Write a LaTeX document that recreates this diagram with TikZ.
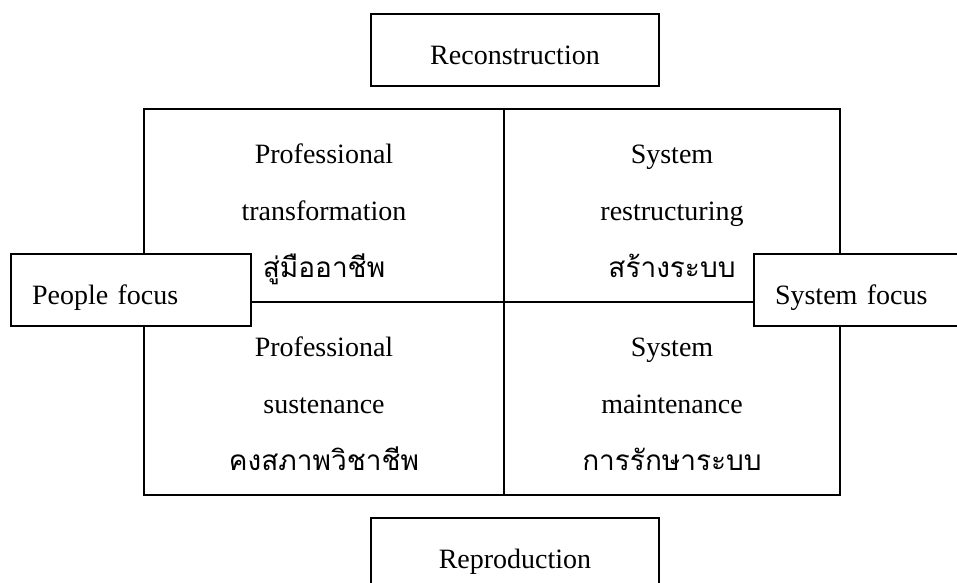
\documentclass[tikz,border=0pt]{standalone}
\usepackage{fontspec}
\setmainfont{Liberation Serif}
\newfontfamily\thaifont[Script=Thai]{Loma}
\begin{document}
\begin{tikzpicture}[x=1pt,y=-1pt,line width=1.8pt,
		cell/.style={draw,minimum width=#1,minimum height=193pt,inner sep=0pt,text height=149pt,text depth=6pt,align=center,font=\fontsize{28pt}{57pt}\selectfont},
		titlebox/.style={draw,minimum width=288pt,minimum height=72pt,inner sep=0pt,text height=29pt,text depth=0pt,font=\fontsize{28pt}{34pt}\selectfont},
		focus/.style={draw,fill=white,minimum height=72pt,inner xsep=21pt,text width=198pt,text height=29pt,text depth=0pt,align=left,font=\fontsize{28pt}{34pt}\selectfont}]
			\useasboundingbox (0,0) rectangle (957,582);
			\node[cell=360pt] (protrans) at (324,205.5) {Professional\\transformation\\{\thaifont สู่มืออาชีพ}};
			\node[cell=336pt] (sysrestr) at (672,205.5) {System\\restructuring\\{\thaifont สร้างระบบ}};
			\node[cell=360pt] (prosust) at (324,398.5) {Professional\\sustenance\\{\thaifont คงสภาพวิชาชีพ}};
			\node[cell=336pt] (sysmaint) at (672,398.5) {System\\maintenance\\{\thaifont การรักษาระบบ}};
			\node[titlebox] (recon) at (515,50) {Reconstruction};
			\node[titlebox] (repro) at (515,554) {Reproduction};
			\node[focus] (people) at (131,290) {People focus};
			\node[focus] (sysfocus) at (874,290) {System focus};
		\end{tikzpicture}
\end{document}
